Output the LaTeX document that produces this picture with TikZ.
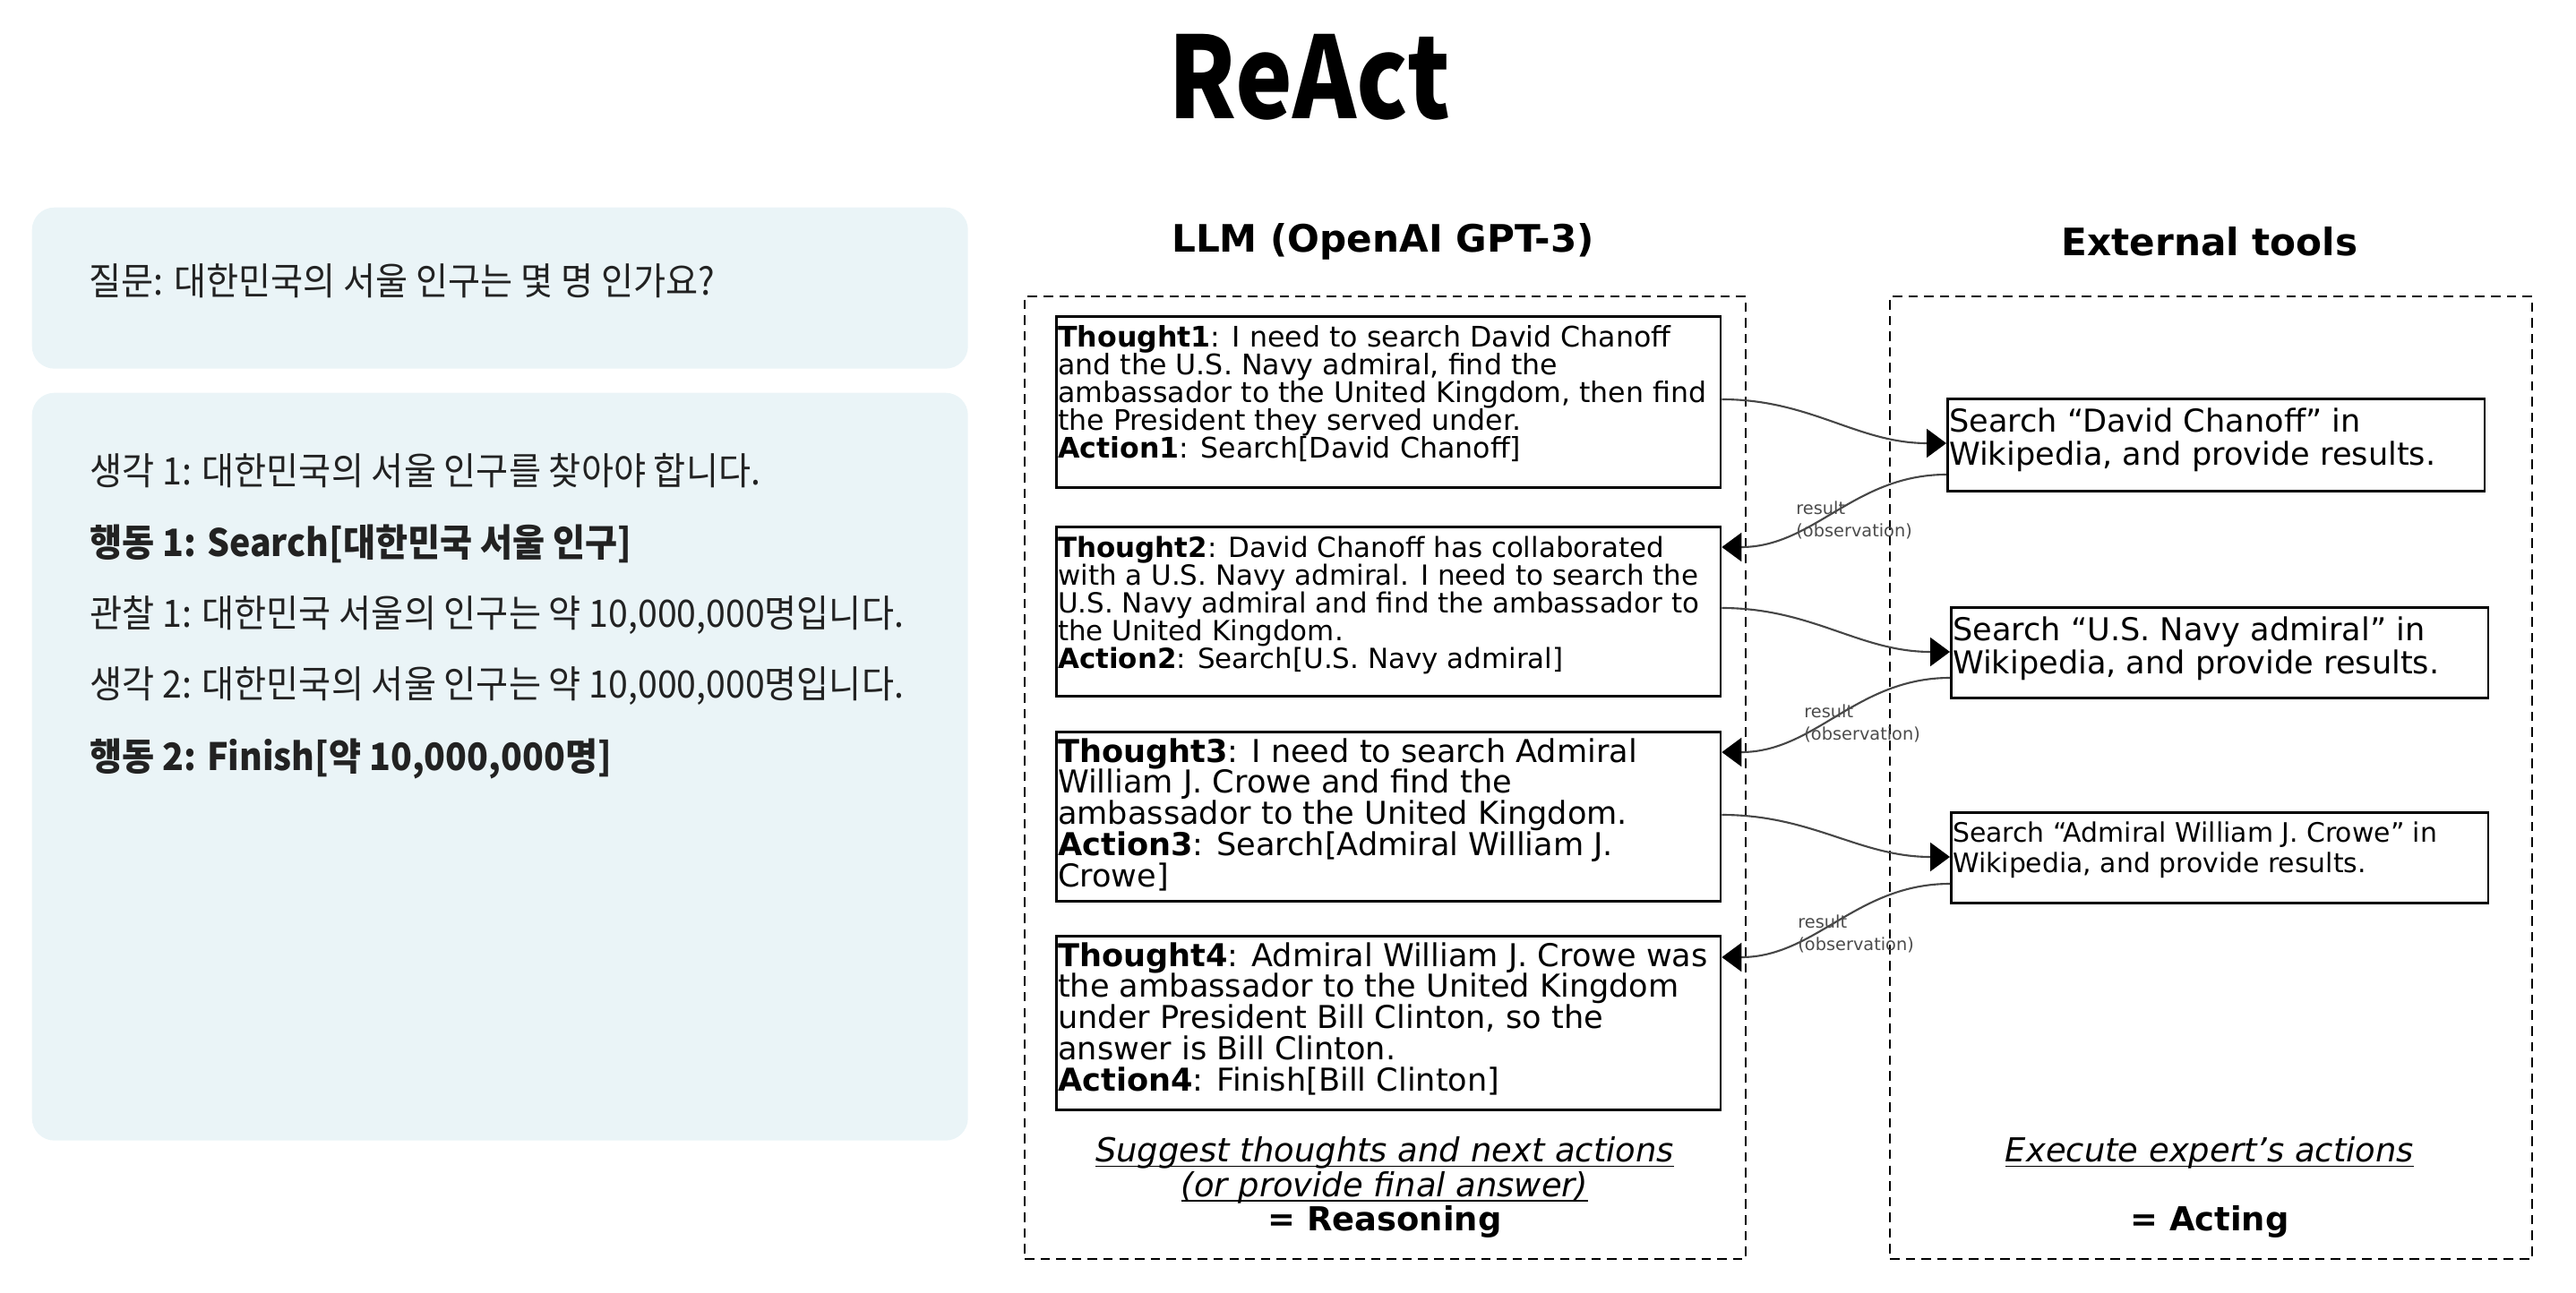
\documentclass[tikz,border=0pt]{standalone}
\usepackage{fontspec}
\usepackage{tikz}
\usetikzlibrary{arrows.meta}
\usetikzlibrary{positioning}
\newfontfamily\dv{DejaVu Sans}
\newfontfamily\kr[FakeStretch=0.93]{Noto Sans CJK KR}
\newfontfamily\krtitle[FakeStretch=0.85]{Noto Sans CJK KR}
\definecolor{panelblue}{HTML}{EAF4F7}
\definecolor{ink}{HTML}{222222}

\begin{document}
\begin{tikzpicture}[
    panel/.style={fill=panelblue, rounded corners=0.25cm, anchor=north west, minimum width=10.45cm},
    korean/.style={anchor=base west, text=ink, font=\kr\fontsize{12}{14}\selectfont},
    head/.style={font=\dv\bfseries\fontsize{12}{14}\selectfont},
    dashframe/.style={draw, dash pattern=on 3pt off 2pt, line width=0.6pt, anchor=north west, minimum height=10.75cm},
    thought/.style={draw, line width=0.8pt, anchor=north west, inner xsep=0.5pt, inner ysep=3pt},
    tool/.style={draw, line width=0.8pt, anchor=north west, inner xsep=0.5pt, inner ysep=3pt},
    call/.style={-{Triangle[length=2.2mm,width=3.2mm,color=black]}, draw=gray!55!black, line width=0.6pt},
    obs/.style={anchor=west, align=left, text=gray!60!black, font=\dv\fontsize{5.5}{7}\selectfont},
    note/.style={align=center, anchor=north, font=\dv\fontsize{10.5}{11}\selectfont}
]
\useasboundingbox (0,0) rectangle (28.76,-14.44);

\node[font=\krtitle\bfseries\fontsize{36}{40}\selectfont, anchor=base] (title) at (14.62,-1.33) {ReAct};

% question and answer panels
\node[panel, minimum height=1.80cm] (question) at (0.35,-2.31) {};
\node[korean] (q) at (0.87,-3.30) {질문: 대한민국의 서울 인구는 몇 명 인가요?};

\node[panel, minimum height=8.35cm] (steps) at (0.35,-4.38) {};
\node[korean] (line1) at (0.88,-5.42) {생각 1: 대한민국의 서울 인구를 찾아야 합니다.};
\node[korean] (line2) at (0.88,-6.21) {\bfseries 행동 1: Search[대한민국 서울 인구]};
\node[korean] (line3) at (0.88,-7.00) {관찰 1: 대한민국 서울의 인구는 약 10,000,000명입니다.};
\node[korean] (line4) at (0.88,-7.79) {생각 2: 대한민국의 서울 인구는 약 10,000,000명입니다.};
\node[korean] (line5) at (0.88,-8.60) {\bfseries 행동 2: Finish[약 10,000,000명]};

% columns
\node[head] (llm) at (15.44,-2.70) {LLM (OpenAI GPT-3)};
\node[head] (tools) at (24.67,-2.70) {External tools};
\node[dashframe, minimum width=8.05cm] (llmbox) at (11.43,-3.30) {};
\node[dashframe, minimum width=7.17cm] (toolbox) at (21.09,-3.30) {};

% thoughts
\node[thought] (thought1) at (11.78,-3.52) {\parbox[t][1.70cm][t]{7.38cm}{\dv\fontsize{9}{8.8}\selectfont
\textbf{Thought1}: I need to search David Chanoff\\
and the U.S. Navy admiral, find the\\
ambassador to the United Kingdom, then find\\
the President they served under.\\
\textbf{Action1}: Search[David Chanoff]}};
\node[thought] (thought2) at (11.78,-5.87) {\parbox[t][1.68cm][t]{7.38cm}{\dv\fontsize{8.8}{8.8}\selectfont
\textbf{Thought2}: David Chanoff has collaborated\\
with a U.S. Navy admiral. I need to search the\\
U.S. Navy admiral and find the ambassador to\\
the United Kingdom.\\
\textbf{Action2}: Search[U.S. Navy admiral]}};
\node[thought, inner ysep=2pt] (thought3) at (11.78,-8.16) {\parbox[t][1.75cm][t]{7.38cm}{\dv\fontsize{10}{9.9}\selectfont
\textbf{Thought3}: I need to search Admiral\\
William J. Crowe and find the\\
ambassador to the United Kingdom.\\
\textbf{Action3}: Search[Admiral William J.\\
Crowe]}};
\node[thought, inner ysep=2pt] (thought4) at (11.78,-10.44) {\parbox[t][1.80cm][t]{7.38cm}{\dv\fontsize{10}{9.9}\selectfont
\textbf{Thought4}: Admiral William J. Crowe was\\
the ambassador to the United Kingdom\\
under President Bill Clinton, so the\\
answer is Bill Clinton.\\
\textbf{Action4}: Finish[Bill Clinton]}};

% tool calls
\node[tool] (search1) at (21.73,-4.44) {\parbox[t][0.82cm][t]{5.96cm}{\dv\fontsize{10}{10.5}\selectfont
Search “David Chanoff” in\\
Wikipedia, and provide results.}};
\node[tool] (search2) at (21.77,-6.77) {\parbox[t][0.80cm][t]{5.96cm}{\dv\fontsize{10}{10.5}\selectfont
Search “U.S. Navy admiral” in\\
Wikipedia, and provide results.}};
\node[tool] (search3) at (21.77,-9.06) {\parbox[t][0.80cm][t]{5.96cm}{\dv\fontsize{8.5}{9.5}\selectfont
Search “Admiral William J. Crowe” in\\
Wikipedia, and provide results.}};

\draw[call] ([yshift=-0.94cm]thought1.north east) to[out=0,in=180] ([yshift=-0.51cm]search1.north west);
\draw[call] ([yshift=-0.86cm]search1.north west) to[out=180,in=0] ([yshift=-0.24cm]thought2.north east);
\draw[call] ([yshift=-0.92cm]thought2.north east) to[out=0,in=180] ([yshift=-0.51cm]search2.north west);
\draw[call] ([yshift=-0.80cm]search2.north west) to[out=180,in=0] ([yshift=-0.24cm]thought3.north east);
\draw[call] ([yshift=-0.94cm]thought3.north east) to[out=0,in=180] ([yshift=-0.51cm]search3.north west);
\draw[call] ([yshift=-0.81cm]search3.north west) to[out=180,in=0] ([yshift=-0.25cm]thought4.north east);

\node[obs] (obs1) at (19.93,-5.81) {result\\(observation)};
\node[obs] (obs2) at (20.02,-8.08) {result\\(observation)};
\node[obs] (obs3) at (19.95,-10.43) {result\\(observation)};

% bottom captions
\node[note] (reasoning) at (15.46,-12.85) {\underline{\smash{\textit{Suggest thoughts and next actions}}}\\
\underline{\smash{\textit{(or provide final answer)}}}\\
\textbf{= Reasoning}};
\node[note] (acting) at (24.67,-12.85) {\underline{\smash{\textit{Execute expert’s actions}}}\\[11pt]
\textbf{= Acting}};
\end{tikzpicture}
\end{document}
